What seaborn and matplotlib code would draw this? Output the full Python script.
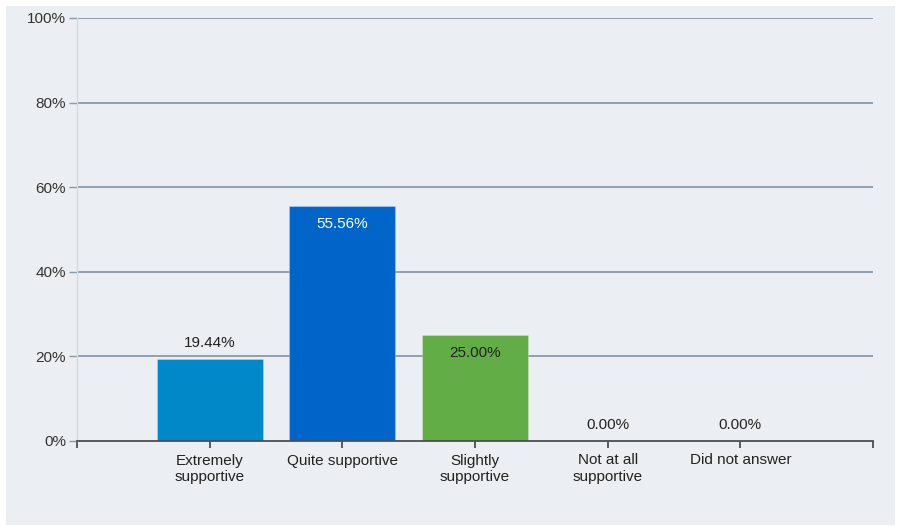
import matplotlib
matplotlib.use("Agg")
import matplotlib.pyplot as plt
import seaborn as sns
import pandas as pd
from matplotlib.patches import Rectangle

categories = ["Extremely\nsupportive", "Quite supportive", "Slightly\nsupportive",
              "Not at all\nsupportive", "Did not answer"]
values = [19.44, 55.56, 25.00, 0.00, 0.00]
colors = ["#0088c9", "#0064c8", "#62ad45", "#0088c9", "#0088c9"]
y_ticks = [0, 20, 40, 60, 80, 100]
y_tick_labels = ["0%", "20%", "40%", "60%", "80%", "100%"]

sns.set_theme(style="white")
plt.rcParams["font.family"] = ["Liberation Sans", "DejaVu Sans"]

W, H = 902, 527
fig = plt.figure(figsize=(W / 100, H / 100), dpi=100)
fig.patch.set_facecolor("white")
bg = "#ebeef2"
fig.patches.append(Rectangle((6 / W, 1 - 525 / H), (895 - 6) / W, (525 - 6) / H,
                             transform=fig.transFigure, facecolor=bg, edgecolor="none", zorder=-10))

ax = fig.add_axes([77 / W, 1 - 441 / H, (873 - 77) / W, (441 - 18) / H])
ax.set_zorder(1)
ax.set_facecolor(bg)

df = pd.DataFrame({"cat": categories, "val": values})
sns.barplot(data=df, x="cat", y="val", hue="cat", palette=colors, legend=False,
            width=0.8, saturation=1, ax=ax, zorder=3, edgecolor="#ffffff40", linewidth=0.8)

ax.set_xlim(-1, 5)
ax.set_ylim(0, 100)
ax.set_xlabel("")
ax.set_ylabel("")

for y in y_ticks[1:]:
    ax.axhline(y, color="#8a9aa7", lw=1.3, zorder=1)

for s in ["top", "right"]:
    ax.spines[s].set_visible(False)
ax.spines["left"].set_color("#d3dbe3")
ax.spines["left"].set_linewidth(1.0)
ax.spines["bottom"].set_color("#4a4f54")
ax.spines["bottom"].set_linewidth(1.3)
ax.spines["bottom"].set_zorder(5)

ax.set_yticks(y_ticks)
ax.set_yticklabels(y_tick_labels, fontsize=11, color="#333333")
ax.tick_params(axis="y", length=6, width=1, color="#8a9aa7", pad=2, left=True)

ax.set_xticks([-1, 0, 1, 2, 3, 4, 5])
ax.set_xticklabels([""] + categories + [""], fontsize=11, color="#222222", linespacing=1.2)
ax.tick_params(axis="x", length=5, width=1.3, color="#4a4f54", pad=4, bottom=True)

label_colors = ["#222222", "white", "#222222", "#222222", "#222222"]
for i, v in enumerate(values):
    if v > 20:
        ax.annotate(f"{v:.2f}%", (i, v), xytext=(0, -18), textcoords="offset pixels",
                    ha="center", va="center", fontsize=11, color=label_colors[i], zorder=6)
    else:
        ax.annotate(f"{v:.2f}%", (i, v), xytext=(0, 16), textcoords="offset pixels",
                    ha="center", va="center", fontsize=11, color=label_colors[i], zorder=6)

fig.savefig("out.png", dpi=100, facecolor=fig.get_facecolor())
